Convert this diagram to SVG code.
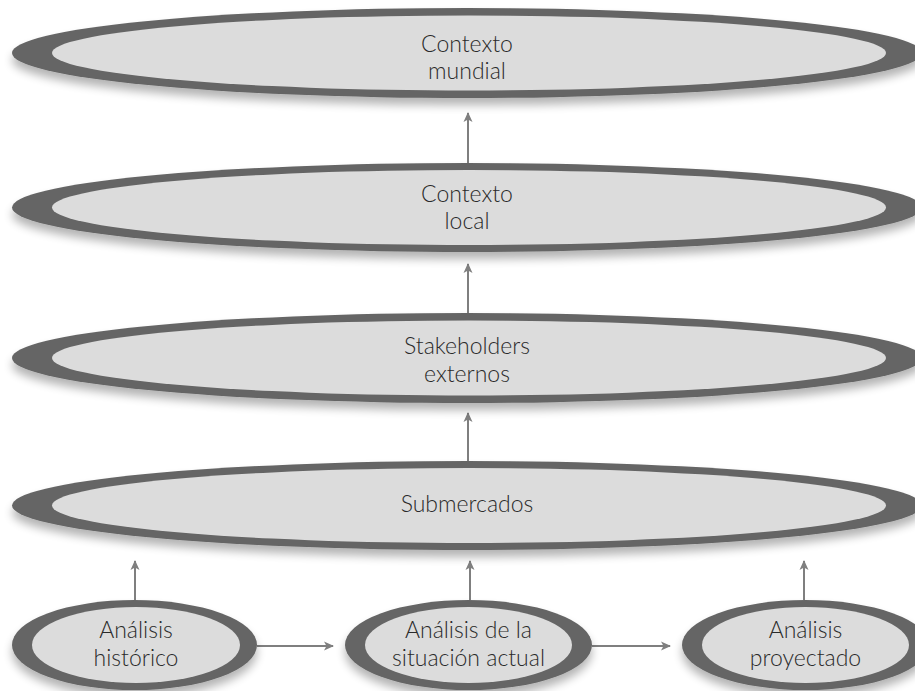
<svg xmlns="http://www.w3.org/2000/svg" width="915" height="691" viewBox="0 0 915 691">
<defs>
<filter id="sh" x="-10%" y="-30%" width="120%" height="170%">
<feGaussianBlur in="SourceAlpha" stdDeviation="5"/>
<feOffset dx="0" dy="7" result="b"/>
<feComponentTransfer><feFuncA type="linear" slope="0.3"/></feComponentTransfer>
<feMerge><feMergeNode/><feMergeNode in="SourceGraphic"/></feMerge>
</filter>
<marker id="ah" viewBox="0 0 10 10" refX="9" refY="5" markerWidth="10" markerHeight="10" markerUnits="userSpaceOnUse" orient="auto">
<path d="M0,0.5 L10,5 L0,9.5 L2.5,5 Z" fill="#7f7f7f"/>
</marker>
<style>
.outer{fill:#656565;}
.inner{fill:#dcdcdc;}
.t{font-family:Lato,"Open Sans","DejaVu Sans",sans-serif;font-size:23px;font-weight:300;fill:#2a2a2a;text-anchor:middle;}
.c{stroke:#7f7f7f;stroke-width:2;fill:none;marker-end:url(#ah);}
</style>
</defs>
<rect width="915" height="691" fill="#ffffff"/>
<g id="connectors">
<line class="c" x1="468" y1="163" x2="468" y2="113"/>
<line class="c" x1="468" y1="313" x2="468" y2="264"/>
<line class="c" x1="468" y1="461" x2="468" y2="413"/>
<line class="c" x1="135" y1="600" x2="135" y2="561"/>
<line class="c" x1="470" y1="600" x2="470" y2="561"/>
<line class="c" x1="804" y1="600" x2="804" y2="561"/>
<line class="c" x1="257" y1="646" x2="333" y2="646"/>
<line class="c" x1="592" y1="646" x2="670" y2="646"/>
</g>
<g id="contexto-mundial">
<ellipse class="outer" cx="467" cy="53" rx="455" ry="45" filter="url(#sh)"/>
<ellipse class="inner" cx="469" cy="53" rx="417" ry="37.5"/>
<text class="t" x="467" y="52">Contexto</text>
<text class="t" x="467" y="79">mundial</text>
</g>
<g id="contexto-local">
<ellipse class="outer" cx="467" cy="207.5" rx="455" ry="44.5" filter="url(#sh)"/>
<ellipse class="inner" cx="469" cy="207.5" rx="417" ry="37.5"/>
<text class="t" x="467" y="202">Contexto</text>
<text class="t" x="467" y="229">local</text>
</g>
<g id="stakeholders">
<ellipse class="outer" cx="467" cy="358" rx="455" ry="45" filter="url(#sh)"/>
<ellipse class="inner" cx="469" cy="358" rx="417" ry="37.5"/>
<text class="t" x="467" y="354">Stakeholders</text>
<text class="t" x="467" y="382">externos</text>
</g>
<g id="submercados">
<ellipse class="outer" cx="467" cy="505.5" rx="455" ry="44.5" filter="url(#sh)"/>
<ellipse class="inner" cx="469" cy="505.5" rx="417" ry="37.5"/>
<text class="t" x="467" y="512">Submercados</text>
</g>
<g id="analisis-historico">
<ellipse class="outer" cx="134.5" cy="645" rx="122.5" ry="45" filter="url(#sh)"/>
<ellipse class="inner" cx="136" cy="645" rx="104" ry="38"/>
<text class="t" x="136" y="638">Análisis</text>
<text class="t" x="136" y="666">histórico</text>
</g>
<g id="analisis-situacion">
<ellipse class="outer" cx="468.5" cy="645" rx="123.5" ry="45" filter="url(#sh)"/>
<ellipse class="inner" cx="468.5" cy="645" rx="103.5" ry="38"/>
<text class="t" x="468.5" y="638">Análisis de la</text>
<text class="t" x="468.5" y="666">situación actual</text>
</g>
<g id="analisis-proyectado">
<ellipse class="outer" cx="805.5" cy="645" rx="123.5" ry="45" filter="url(#sh)"/>
<ellipse class="inner" cx="805.5" cy="645" rx="103.5" ry="38"/>
<text class="t" x="805.5" y="638">Análisis</text>
<text class="t" x="805.5" y="666">proyectado</text>
</g>
</svg>
